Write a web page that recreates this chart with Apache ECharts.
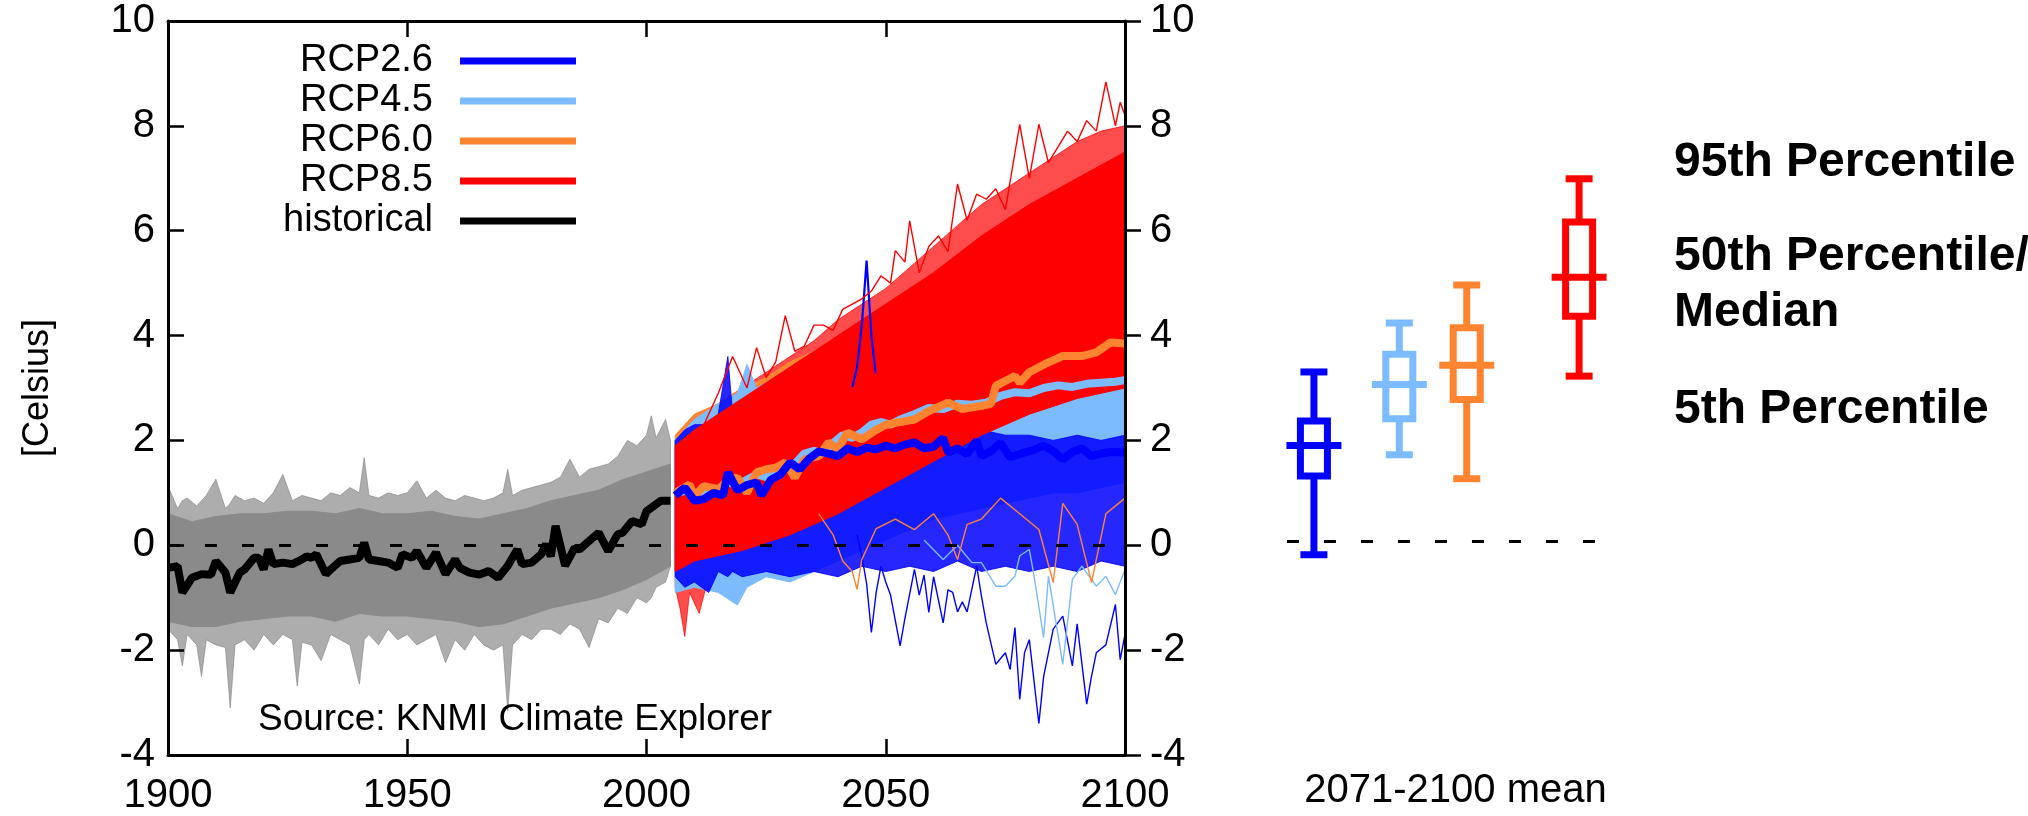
<!DOCTYPE html>
<html>
<head>
<meta charset="utf-8">
<title>Temperature projections</title>
<script src="https://cdn.jsdelivr.net/npm/echarts/dist/echarts.min.js"></script>
<style>
  html, body { margin: 0; padding: 0; background: #fff; }
  #chart { width: 2028px; height: 816px; }
</style>
</head>
<body>
<div id="chart"></div>
<script>
// ---- data ----
const histYears = [1900,1902,1903,1905,1907,1909,1910,1912,1913,1915,1916,1918,1919,1920,1921,1922,1924,1926,1928,1929,1930,1931,1933,1934,1936,1938,1940,1941,1942,1944,1946,1948,1949,1951,1952,1954,1956,1958,1960,1961,1963,1965,1967,1969,1971,1973,1974,1976,1978,1979,1980,1981,1983,1985,1986,1988,1990,1992,1994,1995,1997,1999,2000,2003,2005];
const histMean = [-0.43,-0.40,-0.90,-0.62,-0.55,-0.56,-0.30,-0.52,-0.90,-0.52,-0.46,-0.24,-0.24,-0.46,-0.08,-0.36,-0.33,-0.36,-0.27,-0.21,-0.24,-0.17,-0.55,-0.46,-0.30,-0.27,-0.24,0.05,-0.27,-0.30,-0.33,-0.43,-0.17,-0.24,-0.11,-0.43,-0.14,-0.55,-0.27,-0.43,-0.52,-0.56,-0.49,-0.62,-0.39,-0.08,-0.36,-0.33,-0.17,0.02,-0.21,0.37,-0.39,-0.05,-0.08,0.08,0.24,-0.11,0.21,0.24,0.46,0.40,0.65,0.85,0.85];

const rcp26Years = [2006,2008,2010,2012,2014,2016,2017,2019,2021,2023,2024,2026,2028,2030,2032,2034,2036,2038,2040,2042,2044,2046,2048,2050,2052,2054,2056,2058,2060,2062,2063,2065,2067,2069,2070,2072,2074,2076,2079,2081,2083,2085,2087,2089,2091,2093,2095,2097,2100];
const rcp26Mean = [0.95,1.10,0.85,0.88,1.00,0.95,1.39,1.05,1.15,1.20,0.95,1.25,1.35,1.58,1.45,1.65,1.79,1.75,1.70,1.85,1.78,1.86,1.83,1.90,1.85,1.92,1.96,1.85,1.88,2.05,1.77,1.85,1.74,2.00,1.70,1.80,1.95,1.68,1.77,1.82,1.90,1.80,1.64,1.78,1.85,1.70,1.75,1.78,1.77];

const rcp45Years = [2006,2009,2011,2013,2015,2017,2019,2021,2023,2025,2027,2029,2031,2033,2035,2037,2039,2041,2043,2045,2047,2049,2051,2053,2056,2059,2062,2065,2068,2071,2074,2077,2080,2083,2086,2089,2092,2095,2098,2100];
const rcp45Mean = [1.00,1.05,0.95,1.10,1.05,1.20,1.15,1.25,1.35,1.30,1.45,1.50,1.55,1.75,1.80,1.75,1.95,2.10,2.05,2.15,2.30,2.35,2.30,2.40,2.50,2.62,2.60,2.70,2.68,2.72,2.85,2.92,2.90,3.00,3.05,3.02,3.08,3.10,3.12,3.15];

const rcp60Years = [2006,2009,2010,2012,2015,2017,2019,2021,2023,2025,2027,2029,2031,2033,2036,2038,2040,2042,2045,2048,2050,2053,2056,2059,2063,2066,2070,2072,2073,2077,2078,2080,2084,2087,2091,2094,2097,2100];
const rcp60Mean = [1.00,1.16,0.94,1.13,1.07,1.23,1.29,1.00,1.39,1.45,1.48,1.58,1.29,1.64,1.70,1.96,1.83,2.15,2.02,2.20,2.30,2.35,2.40,2.56,2.72,2.60,2.66,2.70,3.04,3.23,3.10,3.30,3.49,3.61,3.61,3.68,3.87,3.85];

const rcp85Years = [2006,2009,2012,2015,2018,2021,2024,2027,2030,2033,2036,2039,2042,2045,2048,2051,2054,2057,2060,2063,2066,2069,2072,2075,2078,2081,2084,2087,2090,2093,2096,2099,2100];
const rcp85Mean = [1.00,1.10,1.20,1.35,1.55,1.70,1.85,2.00,2.25,2.35,2.55,2.70,2.90,3.00,3.20,3.40,3.55,3.70,3.85,4.00,4.15,4.30,4.50,4.65,4.85,5.00,5.10,5.30,5.50,5.65,5.85,6.00,6.05];

// outer edge of the bundle of model runs
const histBandYears = [1900,1902,1903,1904,1906,1907,1908,1910,1912,1913,1914,1916,1918,1920,1922,1924,1926,1927,1928,1930,1932,1934,1936,1938,1940,1941,1942,1944,1946,1948,1950,1952,1954,1956,1958,1960,1962,1964,1966,1968,1970,1971,1972,1974,1976,1978,1980,1982,1984,1986,1988,1990,1992,1994,1996,1998,2000,2001,2002,2004,2005];
const histHigh = [1.13,0.70,0.85,0.90,0.75,0.85,0.95,1.26,0.70,0.80,0.95,0.85,0.90,0.80,1.00,1.35,0.85,0.90,0.95,0.90,0.85,1.00,0.95,1.10,1.00,1.67,0.95,0.90,1.00,0.95,1.00,1.23,0.90,1.05,0.90,0.85,0.95,0.90,0.85,0.90,1.00,1.45,0.95,1.05,1.10,1.15,1.20,1.30,1.64,1.30,1.45,1.50,1.55,1.70,2.00,1.90,2.10,2.47,2.05,2.40,2.00];
const histLow = [-1.60,-1.80,-2.30,-1.70,-1.90,-2.50,-1.80,-1.90,-1.95,-3.10,-1.90,-1.80,-2.00,-1.70,-1.90,-1.70,-1.80,-2.68,-1.85,-1.90,-2.20,-1.70,-1.80,-1.90,-2.65,-1.80,-1.70,-1.90,-1.60,-1.80,-1.70,-1.90,-1.80,-1.70,-2.24,-1.80,-2.00,-1.70,-1.90,-2.00,-1.90,-3.16,-1.90,-1.70,-1.80,-1.60,-1.60,-1.70,-1.50,-1.60,-1.95,-1.40,-1.48,-1.20,-1.30,-1.00,-1.10,-1.00,-0.80,-0.70,-0.40];
// dense middle of the historical bundle
const histCoreYears = [1900,1905,1910,1915,1920,1925,1930,1935,1940,1945,1950,1955,1960,1965,1970,1975,1980,1985,1990,1995,2000,2005];
const histCoreHigh = [0.60,0.45,0.55,0.60,0.60,0.65,0.65,0.60,0.70,0.60,0.60,0.65,0.55,0.50,0.60,0.70,0.85,0.95,1.05,1.25,1.40,1.55];
const histCoreLow = [-1.45,-1.55,-1.55,-1.45,-1.40,-1.35,-1.35,-1.45,-1.30,-1.35,-1.35,-1.40,-1.45,-1.55,-1.50,-1.35,-1.20,-1.10,-1.00,-0.85,-0.65,-0.40];

const rcp26BandYears = [2006,2008,2010,2013,2015,2017,2018,2020,2025,2030,2035,2040,2045,2050,2055,2060,2065,2070,2075,2080,2085,2090,2095,2100];
const rcp26High = [2.0,2.2,2.3,2.3,2.5,3.6,2.5,2.5,2.6,2.6,2.5,2.5,2.4,2.3,2.2,2.3,2.1,2.2,2.1,2.1,2.0,2.1,2.0,2.1];
const rcp26Low = [-0.6,-0.8,-0.7,-0.9,-0.5,-0.6,-0.5,-0.6,-0.5,-0.6,-0.5,-0.6,-0.4,-0.5,-0.4,-0.5,-0.3,-0.5,-0.4,-0.5,-0.4,-0.5,-0.3,-0.4];

const rcp45BandYears = [2006,2010,2015,2019,2021,2023,2025,2030,2035,2040,2045,2050,2055,2060,2065,2070,2075,2080,2085,2090,2095,2100];
const rcp45High = [2.0,2.4,2.7,2.9,3.45,3.0,3.1,3.4,3.6,3.8,3.9,4.0,4.1,4.2,4.3,4.3,4.4,4.4,4.5,4.5,4.6,4.6];
const rcp45Low = [-0.9,-0.8,-0.9,-1.14,-0.8,-0.7,-0.6,-0.7,-0.5,-0.3,-0.1,0.1,0.3,0.5,0.6,0.7,0.8,0.9,1.0,1.0,1.1,1.2];

const rcp60BandYears = [2006,2010,2015,2020,2025,2030,2035,2040,2045,2050,2055,2060,2065,2070,2075,2080,2085,2090,2095,2100];
const rcp60High = [2.1,2.5,2.7,3.0,3.2,3.5,3.7,4.0,4.2,4.4,4.6,4.8,5.0,5.2,5.4,5.5,5.7,5.8,5.9,6.0];
const rcp60Low = [-0.5,-0.6,-0.5,-0.4,-0.3,-0.3,-0.2,-0.1,0.1,0.3,0.5,0.6,0.8,0.9,1.0,1.1,1.2,1.3,1.4,1.5];

const rcp85BandYears = [2006,2007,2008,2009,2011,2013,2015,2020,2025,2030,2035,2040,2045,2050,2055,2060,2065,2070,2075,2080,2085,2090,2095,2100];
const rcp85High = [2.0,2.1,2.2,2.3,2.4,2.5,2.7,3.0,3.3,3.6,3.9,4.3,4.6,4.9,5.3,5.7,6.1,6.5,6.8,7.1,7.4,7.7,7.9,8.0];
const rcp85Low = [-0.8,-1.2,-1.74,-0.9,-1.3,-0.6,-0.5,-0.2,0.0,0.1,0.3,0.5,0.7,1.0,1.3,1.6,1.9,2.1,2.3,2.5,2.7,2.9,3.0,3.1];
const rcp85CoreYears = [2006,2010,2020,2030,2040,2050,2060,2070,2080,2090,2100];
const rcp85CoreHigh = [1.9,2.2,2.8,3.4,4.0,4.6,5.2,5.9,6.5,7.0,7.5];
const rcp85CoreLow = [-0.5,-0.3,-0.1,0.2,0.6,1.1,1.6,2.1,2.5,2.8,3.0];

// single runs that stick out of the bundle
const rcp26LowRunYears = [2044,2045,2046,2047,2048,2049,2050,2051,2053,2054,2056,2057,2058,2059,2060,2062,2063,2064,2065,2066,2067,2069,2070,2071,2073,2075,2076,2077,2078,2079,2080,2082,2083,2084,2085,2087,2089,2090,2092,2093,2094,2096,2098,2099,2100];
const rcp26LowRun = [0.2,-0.2,-0.73,-1.66,-0.9,-0.4,-0.7,-0.95,-1.92,-1.4,-0.46,-0.95,-0.57,-1.28,-0.6,-1.48,-0.85,-0.9,-1.27,-1.08,-1.27,-0.4,-0.97,-1.48,-2.27,-2.05,-2.37,-1.57,-2.94,-2.05,-1.8,-3.4,-2.5,-2.05,-1.6,-1.35,-2.3,-1.5,-3.03,-2.5,-2.05,-1.9,-1.13,-2.18,-1.7];
const rcp26SpikeYears = [2043,2044,2045,2046,2047,2048];
const rcp26Spike = [3.0,3.4,4.2,5.43,4.0,3.2];
const rcp45LowRunYears = [2058,2062,2065,2068,2070,2073,2075,2077,2078,2080,2081,2083,2084,2087,2089,2091,2094,2096,2098,2100];
const rcp45LowRun = [0.1,-0.27,0.0,-0.33,-0.33,-0.78,-0.78,-0.59,-0.2,-0.08,-0.59,-1.76,-0.59,-2.27,-0.65,-0.4,-0.78,-0.59,-0.94,-0.46];
const rcp60LowRunYears = [2036,2039,2041,2043,2044,2045,2048,2052,2056,2060,2063,2065,2067,2070,2074,2078,2082,2085,2087,2090,2093,2096,2100];
const rcp60LowRun = [0.6,0.2,-0.3,-0.5,-0.84,-0.27,0.32,0.5,0.3,0.6,0.2,-0.27,0.4,0.5,0.9,0.6,0.3,-0.71,0.8,0.4,-0.71,0.6,0.9];
const rcp85HighRunYears = [2012,2015,2018,2021,2023,2025,2027,2029,2031,2033,2035,2037,2039,2041,2043,2045,2047,2049,2051,2052,2054,2055,2057,2059,2061,2063,2065,2067,2069,2071,2073,2075,2078,2080,2082,2084,2086,2088,2090,2092,2094,2096,2098,2099,2100];
const rcp85HighRun = [2.3,2.9,3.6,3.0,3.77,3.2,3.5,4.38,3.7,3.8,4.2,4.2,4.1,4.5,4.6,4.7,4.85,5.14,5.0,5.62,5.4,6.19,5.2,5.7,5.9,5.6,6.89,6.2,6.7,6.6,6.8,6.4,8.03,7.0,8.03,7.3,7.6,7.9,7.7,8.1,7.9,8.84,8.0,8.45,8.2];

// 2071-2100 mean, placed by forcing (W/m2)
const boxForcing = [2.6, 4.5, 6.0, 8.5];
const boxP5 = [-0.25, 1.67, 1.21, 3.18];
const boxLow = [1.26, 2.36, 2.73, 4.33];
const boxMedian = [1.85, 3.02, 3.39, 5.08];
const boxHigh = [2.32, 3.60, 4.11, 6.14];
const boxP95 = [3.26, 4.20, 4.93, 6.97];

const yTicks = { min: -4, max: 10, step: 2 };
const xTicks = { min: 1900, max: 2100, step: 50 };

// ---- styles ----
const FONT = '"Liberation Sans", Arial, Helvetica, sans-serif';
const C26 = '#0000ff', C45 = '#7dbbff', C60 = '#ff8430', C85 = '#ff0000', CHIST = '#000000', CGRAY = '#8a8a8a';

function pairs(xs, ys) {
  return xs.map((x, i) => [x, ys[i]]);
}

// filled spread of model runs, one polygon placed through the axes
function band(xs, lo, hi, color, opacity) {
  return {
    type: 'custom',
    xAxisIndex: 0, yAxisIndex: 0,
    silent: true, z: 2,
    data: [[xs[0], lo[0]]],
    renderItem: function (params, api) {
      const pts = [];
      for (let i = 0; i < xs.length; i++) pts.push(api.coord([xs[i], hi[i]]));
      for (let i = xs.length - 1; i >= 0; i--) pts.push(api.coord([xs[i], lo[i]]));
      return {
        type: 'polygon',
        shape: { points: pts },
        style: { fill: color, stroke: color, lineWidth: 1, opacity: opacity == null ? 1 : opacity }
      };
    }
  };
}

function run(xs, ys, color, w) {
  return {
    type: 'line', xAxisIndex: 0, yAxisIndex: 0,
    data: pairs(xs, ys), showSymbol: false, symbol: 'none', silent: true, z: 3,
    lineStyle: { color: color, width: w || 1.4 }, itemStyle: { color: color }
  };
}

function mean(name, xs, ys, color) {
  return {
    name: name, type: 'line', xAxisIndex: 0, yAxisIndex: 0,
    data: pairs(xs, ys), showSymbol: false, symbol: 'none', silent: true, z: 5,
    lineStyle: { color: color, width: 8 }, itemStyle: { color: color }
  };
}

const axisLine = { show: true, onZero: false, lineStyle: { color: '#000', width: 3 } };
const tickStyle = { color: '#000', width: 2.5 };
const labelStyle = { color: '#000', fontSize: 40, fontFamily: FONT };
const plain = v => String(v);

const chart = echarts.init(document.getElementById('chart'));

chart.setOption({
  animation: false,
  backgroundColor: '#fff',
  grid: [
    { left: 168, top: 21, width: 957, height: 734 },
    { left: 1242, top: 21, width: 427, height: 734 }
  ],
  xAxis: [
    {
      gridIndex: 0, type: 'value', position: 'bottom', z: 10,
      min: xTicks.min, max: xTicks.max, interval: xTicks.step,
      axisLine: axisLine,
      axisTick: { inside: true, length: 16, lineStyle: tickStyle },
      axisLabel: Object.assign({ margin: 21, formatter: plain }, labelStyle),
      splitLine: { show: false }
    },
    {
      gridIndex: 0, type: 'value', position: 'top', z: 10,
      min: xTicks.min, max: xTicks.max, interval: xTicks.step,
      axisLine: axisLine,
      axisTick: { inside: true, length: 16, lineStyle: tickStyle },
      axisLabel: { show: false },
      splitLine: { show: false }
    },
    {
      gridIndex: 1, type: 'value', min: 1, max: 10.5,
      axisLine: { show: false, onZero: false }, axisTick: { show: false },
      axisLabel: { show: false }, splitLine: { show: false },
      name: '2071-2100 mean', nameLocation: 'middle', nameGap: 21,
      nameTextStyle: labelStyle
    }
  ],
  yAxis: [
    {
      gridIndex: 0, type: 'value', position: 'left', z: 10,
      min: yTicks.min, max: yTicks.max, interval: yTicks.step,
      axisLine: axisLine,
      axisTick: { inside: true, length: 16, lineStyle: tickStyle },
      axisLabel: Object.assign({ margin: 13, formatter: plain }, labelStyle),
      splitLine: { show: false },
      name: '[Celsius]', nameLocation: 'middle', nameGap: 112, nameRotate: 90,
      nameTextStyle: { color: '#000', fontSize: 36, fontFamily: FONT }
    },
    {
      gridIndex: 0, type: 'value', position: 'right', z: 10,
      min: yTicks.min, max: yTicks.max, interval: yTicks.step,
      axisLine: axisLine,
      axisTick: { inside: false, length: 16, lineStyle: tickStyle },
      axisLabel: Object.assign({ margin: 25, formatter: plain }, labelStyle),
      splitLine: { show: false }
    },
    {
      gridIndex: 1, type: 'value', min: yTicks.min, max: yTicks.max,
      axisLine: { show: false, onZero: false }, axisTick: { show: false },
      axisLabel: { show: false }, splitLine: { show: false }
    }
  ],
  legend: {
    data: ['RCP2.6', 'RCP4.5', 'RCP6.0', 'RCP8.5', 'historical'],
    orient: 'vertical', align: 'right',
    right: 1447, top: 36,
    itemWidth: 116, itemHeight: 7, itemGap: 0,
    icon: 'rect', selectedMode: false,
    textStyle: { color: '#000', fontSize: 38, fontFamily: FONT, lineHeight: 40, padding: [0, 22, 0, 0] }
  },
  graphic: [
    { type: 'text', x: 258, y: 720, z: 20, style: { text: 'Source: KNMI Climate Explorer', fill: '#000', fontSize: 37, fontFamily: FONT, verticalAlign: 'middle' } },
    { type: 'text', x: 1674, y: 163, z: 20, style: { text: '95th Percentile', fill: '#000', fontSize: 48, fontWeight: 'bold', fontFamily: FONT, verticalAlign: 'middle' } },
    { type: 'text', x: 1674, y: 257, z: 20, style: { text: '50th Percentile/', fill: '#000', fontSize: 48, fontWeight: 'bold', fontFamily: FONT, verticalAlign: 'middle' } },
    { type: 'text', x: 1674, y: 313, z: 20, style: { text: 'Median', fill: '#000', fontSize: 48, fontWeight: 'bold', fontFamily: FONT, verticalAlign: 'middle' } },
    { type: 'text', x: 1674, y: 410, z: 20, style: { text: '5th Percentile', fill: '#000', fontSize: 48, fontWeight: 'bold', fontFamily: FONT, verticalAlign: 'middle' } }
  ],
  series: [
    band(histBandYears, histLow, histHigh, CGRAY, 0.7),
    band(histCoreYears, histCoreLow, histCoreHigh, CGRAY, 1),
    band(rcp85BandYears, rcp85Low, rcp85High, C85, 0.7),
    band(rcp60BandYears, rcp60Low, rcp60High, C60, 1),
    band(rcp45BandYears, rcp45Low, rcp45High, C45, 1),
    band(rcp26BandYears, rcp26Low, rcp26High, C26, 0.85),
    band(rcp85CoreYears, rcp85CoreLow, rcp85CoreHigh, C85, 1),
    run(rcp26LowRunYears, rcp26LowRun, C26),
    run(rcp26SpikeYears, rcp26Spike, C26, 2.2),
    run(rcp45LowRunYears, rcp45LowRun, C45),
    run(rcp60LowRunYears, rcp60LowRun, C60),
    run(rcp85HighRunYears, rcp85HighRun, C85),
    {
      type: 'line', xAxisIndex: 0, yAxisIndex: 0, data: [], silent: true, z: 4,
      markLine: {
        silent: true, symbol: 'none', label: { show: false },
        lineStyle: { color: '#000', width: 3, type: [12, 25] },
        data: [{ yAxis: 0 }]
      }
    },
    mean('RCP8.5', rcp85Years, rcp85Mean, C85),
    mean('RCP4.5', rcp45Years, rcp45Mean, C45),
    mean('RCP6.0', rcp60Years, rcp60Mean, C60),
    mean('RCP2.6', rcp26Years, rcp26Mean, C26),
    mean('historical', histYears, histMean, CHIST),
    {
      type: 'line', xAxisIndex: 2, yAxisIndex: 2, data: [], silent: true, z: 2,
      markLine: {
        silent: true, symbol: 'none', label: { show: false },
        lineStyle: { color: '#000', width: 3, type: [12, 25] },
        data: [[{ coord: [2, 0] }, { coord: [9, 0] }]]
      }
    },
    {
      type: 'custom', xAxisIndex: 2, yAxisIndex: 2, silent: true, z: 5,
      data: boxForcing.map((f, i) => ({
        value: [f, boxP5[i], boxLow[i], boxMedian[i], boxHigh[i], boxP95[i]],
        itemStyle: { color: [C26, C45, C60, C85][i] }
      })),
      renderItem: function (params, api) {
        const f = api.value(0);
        const xc = api.coord([f, 0])[0];
        const y5 = api.coord([f, api.value(1)])[1];
        const yLo = api.coord([f, api.value(2)])[1];
        const yMed = api.coord([f, api.value(3)])[1];
        const yHi = api.coord([f, api.value(4)])[1];
        const y95 = api.coord([f, api.value(5)])[1];
        const color = api.visual('color');
        const st = { stroke: color, lineWidth: 7, fill: null, lineCap: 'butt', lineJoin: 'miter' };
        const line = (x1, y1, x2, y2) => ({ type: 'line', shape: { x1: x1, y1: y1, x2: x2, y2: y2 }, style: st });
        return {
          type: 'group',
          children: [
            line(xc, yLo, xc, y5),
            line(xc, yHi, xc, y95),
            line(xc - 13.5, y5, xc + 13.5, y5),
            line(xc - 13.5, y95, xc + 13.5, y95),
            { type: 'rect', shape: { x: xc - 13.5, y: yHi, width: 27, height: yLo - yHi }, style: st },
            line(xc - 27.5, yMed, xc + 27.5, yMed)
          ]
        };
      }
    }
  ]
});
</script>
</body>
</html>
